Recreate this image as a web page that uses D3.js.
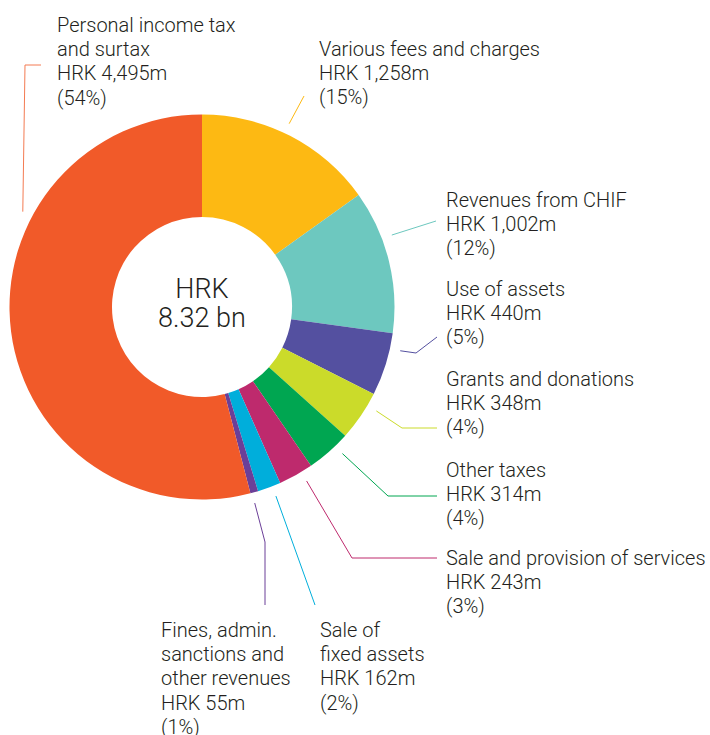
<!DOCTYPE html>
<html>
<head>
<meta charset="utf-8">
<script src="https://cdn.jsdelivr.net/npm/d3@7"></script>
<style>
  body { margin: 0; background: #fff; }
  svg text { font-family: Roboto, "Noto Sans", sans-serif; font-weight: 300; fill: #231f20; }
</style>
</head>
<body>
<svg id="chart" width="710" height="735"></svg>
<script>
const categories = [
  "Various fees and charges",
  "Revenues from CHIF",
  "Use of assets",
  "Grants and donations",
  "Other taxes",
  "Sale and provision of services",
  "Sale of fixed assets",
  "Fines, admin. sanctions and other revenues",
  "Personal income tax and surtax"
];
const values = [1258, 1002, 440, 348, 314, 243, 162, 55, 4495];
const percents = ["15%", "12%", "5%", "4%", "4%", "3%", "2%", "1%", "54%"];
const colors = ["#fdb913", "#6dc8bf", "#5450a0", "#cbdb2a", "#00a651", "#be2a6d", "#00aedb", "#6b3f98", "#f15a29"];
const lineColors = ["#fdb913", "#6dc8bf", "#5450a0", "#cbdb2a", "#00a651", "#be2a6d", "#00aedb", "#6b3f98", "#f47b52"];
const nameLines = [
  ["Various fees and charges"],
  ["Revenues from CHIF"],
  ["Use of assets"],
  ["Grants and donations"],
  ["Other taxes"],
  ["Sale and provision of services"],
  ["Sale of", "fixed assets"],
  ["Fines, admin.", "sanctions and", "other revenues"],
  ["Personal income tax", "and surtax"]
];
const totalLabel = ["HRK", "8.32 bn"];

// label layout: text anchor, leader start (angle nudge in deg) and elbows
const layout = [
  { x: 319, y: 56, nudge: -1.8, pts: [[304, 96]] },
  { x: 446, y: 207, nudge: -6.9, pts: [[436, 221]] },
  { x: 446, y: 296, nudge: -4.9, pts: [[416, 353], [437, 337]] },
  { x: 446, y: 386, nudge: -3.6, pts: [[402, 428], [437, 428]] },
  { x: 446, y: 477, nudge: -2.5, pts: [[388, 496], [437, 496]] },
  { x: 446, y: 565, nudge: -1.8, pts: [[352, 558], [437, 558]] },
  { x: 320, y: 637, nudge: -0.9, pts: [[315, 605]] },
  { x: 161, y: 637, nudge: 0.7, pts: [[265, 542], [265, 605]] },
  { x: 57, y: 32, nudge: 35.3, pts: [[25, 65], [41, 65]] }
];

const svg = d3.select("#chart");
const cx = 202, cy = 307, outerR = 192.5, innerR = 90;
const lineH = 24.2;

const pie = d3.pie().sort(null).value(d => d);
const arcs = pie(values);
const arc = d3.arc().innerRadius(innerR).outerRadius(outerR);

const g = svg.append("g").attr("transform", `translate(${cx},${cy})`);
g.selectAll("path")
  .data(arcs)
  .enter()
  .append("path")
  .attr("d", arc)
  .attr("fill", (d, i) => colors[i]);

// centre label
g.selectAll("text.total")
  .data(totalLabel)
  .enter()
  .append("text")
  .attr("class", "total")
  .attr("text-anchor", "middle")
  .attr("y", (d, i) => -9 + i * 29)
  .style("font-size", "27px")
  .text(d => d);

// leader lines
const polar = (a, r) => [cx + r * Math.sin(a), cy - r * Math.cos(a)];
arcs.forEach((d, i) => {
  const L = layout[i];
  const mid = (d.startAngle + d.endAngle) / 2 + L.nudge * Math.PI / 180;
  const start = polar(mid, 203);
  const pts = [start].concat(L.pts);
  svg.append("path")
    .attr("d", d3.line()(pts))
    .attr("fill", "none")
    .attr("stroke", lineColors[i])
    .attr("stroke-width", 1);
});

// labels
arcs.forEach((d, i) => {
  const L = layout[i];
  const lines = nameLines[i].concat([
    "HRK " + d3.format(",")(values[i]) + "m",
    "(" + percents[i] + ")"
  ]);
  const t = svg.append("text")
    .attr("x", L.x)
    .attr("y", L.y)
    .style("font-size", "20px");
  t.selectAll("tspan")
    .data(lines)
    .enter()
    .append("tspan")
    .attr("x", L.x)
    .attr("dy", (l, j) => j === 0 ? 0 : lineH)
    .text(l => l);
});
</script>
</body>
</html>
